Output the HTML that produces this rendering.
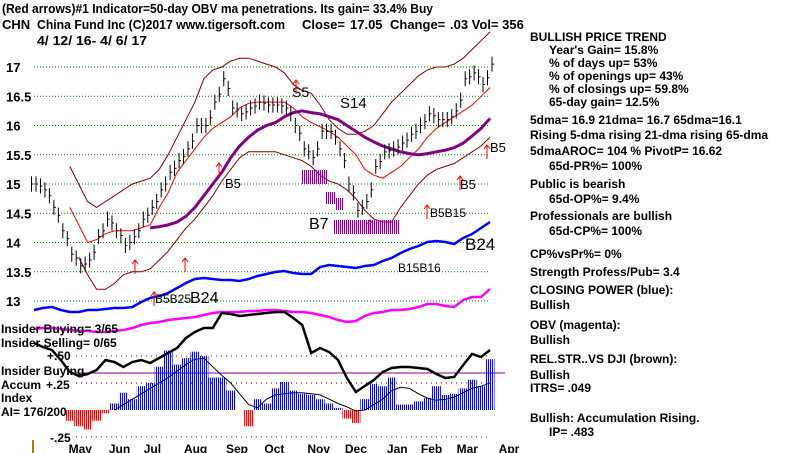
<!DOCTYPE html>
<html><head><meta charset="utf-8"><style>
html,body{margin:0;padding:0;background:#fff;width:800px;height:453px;overflow:hidden}
svg{display:block;font-family:"Liberation Sans",sans-serif}
.t{font-size:12px;font-weight:bold;fill:#000}
.h{font-size:13px;font-weight:bold;fill:#000}
</style></head><body>
<svg id="chart" width="800" height="453" viewBox="0 0 800 453">
<defs>
<pattern id="bstripe" width="2" height="4" patternUnits="userSpaceOnUse"><rect width="1" height="4" fill="#0000ff"/></pattern>
<pattern id="rstripe" width="2" height="4" patternUnits="userSpaceOnUse"><rect width="1" height="4" fill="#ff0000"/></pattern>
<pattern id="pstripe" width="2" height="4" patternUnits="userSpaceOnUse"><rect width="1" height="4" fill="#800080"/></pattern>
</defs>
<text class="h" x="2" y="13" textLength="431" lengthAdjust="spacingAndGlyphs">(Red arrows)#1 Indicator=50-day OBV ma penetrations. Its gain= 33.4% Buy</text>
<g class="h">
<text x="2" y="29">CHN</text>
<text x="37" y="29" textLength="248" lengthAdjust="spacingAndGlyphs">China Fund Inc  (C)2017 www.tigersoft.com</text>
<text x="302" y="29">Close=</text>
<text x="350" y="29">17.05</text>
<text x="390" y="29">Change=</text>
<text x="450" y="29">.03 Vol= 356</text>
</g>
<text class="h" x="37" y="45" textLength="110" lengthAdjust="spacingAndGlyphs">4/ 12/ 16- 4/ 6/ 17</text>
<g id="grid"></g><g id="bands"></g><g id="bars"></g><g id="lower"></g><g id="notes"></g>
<g class="t">
<text x="530" y="41">BULLISH PRICE TREND</text>
<text x="549" y="54">Year's Gain= 15.8%</text>
<text x="549" y="67">% of days up= 53%</text>
<text x="549" y="80">% of openings up= 43%</text>
<text x="549" y="93">% of closings up= 59.8%</text>
<text x="549" y="106">65-day gain= 12.5%</text>
<text x="530" y="124">5dma= 16.9 21dma= 16.7 65dma=16.1</text>
<text x="530" y="139">Rising 5-dma  rising 21-dma  rising 65-dma</text>
<text x="530" y="155">5dmaAROC= 104  %  PivotP= 16.62</text>
<text x="549" y="170">65d-PR%= 100%</text>
<text x="530" y="188">Public is bearish</text>
<text x="549" y="203">65d-OP%= 9.4%</text>
<text x="530" y="220">Professionals are bullish</text>
<text x="549" y="235">65d-CP%= 100%</text>
<text x="530" y="258">CP%vsPr%=  0%</text>
<text x="530" y="276">Strength Profess/Pub= 3.4</text>
<text x="530" y="294">CLOSING POWER (blue):</text>
<text x="530" y="309">Bullish</text>
<text x="530" y="329">OBV (magenta):</text>
<text x="530" y="344">Bullish</text>
<text x="530" y="363">REL.STR..VS DJI (brown):</text>
<text x="530" y="379">Bullish</text>
<text x="530" y="392">ITRS= .049</text>
<text x="530" y="422">Bullish: Accumulation Rising.</text>
<text x="549" y="436">IP=  .483</text>
</g>
<g class="t">
<text x="1" y="333">Insider Buying= 3/65</text>
<text x="1" y="347">Insider Selling= 0/65</text>
<text x="47" y="360">+.50</text>
<text x="1" y="375">Insider Buying</text>
<text x="1" y="389">Accum</text><text x="46" y="389">+.25</text>
<text x="1" y="402">Index</text>
<text x="1" y="416">AI= 176/200</text>
<text x="50" y="442">-.25</text>
</g>
<rect x="32" y="440" width="2" height="13" fill="#a08000"/>
</svg>
<script>
const priceClose=[15.0,14.9,14.6,14.2,13.8,13.6,13.7,14.1,14.4,14.2,13.95,14.1,14.4,14.6,14.9,15.2,15.4,15.6,16.0,16.0,16.4,16.8,16.3,16.2,16.3,16.4,16.35,16.35,16.3,16.0,15.6,15.45,15.9,15.9,15.6,15.0,14.55,14.7,15.3,15.55,15.6,15.7,15.85,16.0,16.2,16.1,16.1,16.25,16.8,16.9,16.7,17.05];
const upperBand=[null,null,null,null,15.3,15.0,14.7,14.6,14.7,14.8,14.9,15.0,15.05,15.1,15.25,15.5,15.8,16.1,16.4,16.8,16.95,17.0,17.1,17.15,17.15,17.1,17.05,17.0,16.9,16.7,16.6,16.55,16.35,16.1,15.95,15.85,15.85,15.9,16.0,16.2,16.4,16.55,16.7,16.85,16.95,17.0,17.0,17.05,17.15,17.3,17.45,17.6];
const lowerBand=[null,null,null,null,null,13.75,13.45,13.2,13.2,13.3,13.45,13.5,13.5,13.55,13.7,13.85,14.05,14.25,14.4,14.6,14.8,15.05,15.25,15.45,15.55,15.55,15.55,15.55,15.5,15.45,15.4,15.3,15.15,15.05,15.0,14.9,14.75,14.55,14.4,14.35,14.35,14.6,14.8,15.0,15.15,15.25,15.3,15.35,15.45,15.55,15.65,15.8];
const ma21=[null,null,null,null,14.6,14.3,14.0,14.05,14.15,14.2,14.2,14.2,14.25,14.3,14.6,14.85,15.2,15.4,15.6,15.8,15.95,16.05,16.15,16.3,16.38,16.4,16.4,16.4,16.4,16.3,16.15,16.05,15.98,15.9,15.8,15.65,15.5,15.25,15.15,15.1,15.2,15.3,15.45,15.6,15.8,15.95,16.05,16.15,16.25,16.35,16.5,16.65];
const ma65=[null,null,null,null,null,null,null,null,null,null,null,null,null,14.25,14.27,14.3,14.35,14.45,14.6,14.8,15.0,15.2,15.45,15.65,15.8,15.92,16.0,16.05,16.15,16.22,16.25,16.22,16.2,16.15,16.1,16.0,15.9,15.8,15.72,15.65,15.6,15.55,15.52,15.5,15.52,15.55,15.58,15.62,15.7,15.82,15.95,16.12];
const closingPower=[10,12,13,10,8,8,10,10,11,12,12,13,18,22,24,27,32,37,41,42,41,40,40,39,41,44,46,48,49,47,46,46,53,55,54,53,52,54,55,59,62,67,71,74,78,79,78,76,82,86,92,98];
const obv=[11,12,12,11,10,9,9,8,8,9,10,12,15,17,18,20,21,22,23,25,27,28,28,28,29,29,30,30,29,28,28,27,25,23,20,18,19,24,27,28,30,30,31,33,36,36,34,33,40,43,43,51];
const relStrength=[57,53,50,40,28,24,26,30,40,38,33,38,40,37,42,47,52,62,68,72,72,87,86,84,85,86,87,88,88,82,75,47,52,48,40,22,8,14,20,28,32,33,33,32,31,26,22,23,35,46,43,50];
const accumIndex=[null,null,null,null,-0.1,-0.15,-0.18,-0.1,-0.03,0.06,0.16,0.1,0.22,0.25,0.4,0.55,0.42,0.48,0.54,0.5,0.3,0.3,0.18,0.0,-0.15,0.1,0.06,0.2,0.26,0.18,0.15,0.14,0.1,0.06,0.02,-0.08,-0.12,0.1,0.24,0.22,0.3,0.05,0.05,0.08,0.11,0.22,0.14,0.15,0.2,0.28,0.22,0.47];
const accumMa=[null,null,null,null,null,null,null,null,null,0.0,0.05,0.1,0.15,0.2,0.25,0.3,0.36,0.42,0.47,0.48,0.4,0.32,0.25,0.15,0.05,0.02,0.1,0.14,0.15,0.16,0.16,0.15,0.14,0.1,0.06,0.03,-0.01,0.0,0.05,0.1,0.18,0.21,0.2,0.15,0.11,0.09,0.1,0.12,0.16,0.2,0.22,0.25];
const priceTicks=[17,16.5,16,15.5,15,14.5,14,13.5,13];
const tickLabels=["17","16.5","16","15.5","15","14.5","14","13.5","13"];
const months=["May","Jun","Jul","Aug","Sep","Oct","Nov","Dec","Jan","Feb","Mar","Apr"];
const monthIdx=[5.1,9.6,13.5,18,22.7,27,31.8,36,40.7,44.5,48.5,53.2];

const NS="http://www.w3.org/2000/svg";
const X0=34,X1=490;
const xs=i=>X0+i*(X1-X0)/(priceClose.length-1);
const yp=p=>67+(17-p)*58.5;
const ycp=v=>320-v, yobv=v=>340-v, yrs=v=>400-v;
const yai=v=>410-v*108;
function mk(tag,attrs,parent){const e=document.createElementNS(NS,tag);for(const k in attrs)e.setAttribute(k,attrs[k]);parent.appendChild(e);return e;}
function line(arr,fy,stroke,w,parent,name,dash){
  let d="";arr.forEach((v,i)=>{if(v==null)return;d+=(d?"L":"M")+xs(i).toFixed(1)+","+fy(v).toFixed(1);});
  const p=mk("path",{d:d,fill:"none",stroke:stroke,"stroke-width":w},parent);
  if(dash)p.setAttribute("stroke-dasharray",dash);
  
  
}
const grid=document.getElementById("grid");
priceTicks.forEach((t,k)=>{
  const g=mk("line",{x1:34,x2:490,y1:yp(t),y2:yp(t),stroke:"#008000","stroke-dasharray":"1,2"},grid);
  
  
  const tx=mk("text",{x:6,y:yp(t)+5,class:"h"},grid);tx.textContent=tickLabels[k];
  
  
});
[[0.5,"#800080"],[0.25,"#000"],[-0.25,"#800080"]].forEach(a=>{
  const g=mk("line",{x1:76,x2:490,y1:yai(a[0]),y2:yai(a[0]),stroke:a[1],"stroke-dasharray":"1,4"},grid);
  
  
});
const zl=mk("line",{x1:76,x2:505,y1:373,y2:373,stroke:"#800080"},grid);


months.forEach((m,k)=>{
  const tx=mk("text",{x:X0+monthIdx[k]*(X1-X0)/(priceClose.length-1)-11,y:453,class:"t"},grid);tx.textContent=m;
  
  
});
const bands=document.getElementById("bands");
line(upperBand,yp,"#800000",1,bands,"upper-band");
line(lowerBand,yp,"#800000",1,bands,"lower-band");
line(ma21,yp,"#ff0000",1,bands,"ma-21");
line(ma65,yp,"#800080",3,bands,"ma-65");
const bars=document.getElementById("bars");
priceClose.forEach((c,i)=>{
  const x=xs(i);
  const prev=i>0?priceClose[i-1]:c;
  [[-2.5,(prev*2+c)/3],[2,c]].forEach(s=>{
    const b=mk("path",{d:`M${x+s[0]},${yp(s[1]+0.13)}V${yp(s[1]-0.13)}M${x+s[0]},${yp(s[1])}h2`,stroke:"#000",fill:"none"},bars);
    
    
  });
});
const lower=document.getElementById("lower");
accumIndex.forEach((v,i)=>{
  if(v==null)return;
  const y=yai(v),y0=yai(0);
  const r=mk("rect",{x:xs(i)-4.5,y:Math.min(y,y0),width:9,height:Math.abs(y-y0),fill:v>=0?"url(#bstripe)":"url(#rstripe)"},lower);
  
  
});
line(accumMa,yai,"#000",1,lower,"accum-ma");
line(closingPower,ycp,"#0000ff",2.5,lower,"closing-power");
line(obv,yobv,"#ff00ff",2.5,lower,"obv-line");
line(relStrength,yrs,"#000",2.5,lower,"relative-strength");
const notes=document.getElementById("notes");
[["S5",292,97,14],["S14",340,108,15],["B5",225,188,13],["B7",309,229,16],["B5",460,189,13],["B5",490,152,13],["B5B15",430,217,12],["B24",465,250,17],["B15B16",398,272,12],["B5B25",155,303,12],["B24",190,303,16]].forEach(a=>{
  const tx=mk("text",{x:a[1],y:a[2],"font-size":a[3],fill:"#000"},notes);tx.textContent=a[0];
  
  
});
[[135,260],[185,258],[219,163],[370,220],[427,205],[460,176],[487,145],[154,292],[296,80]].forEach(a=>{
  const p=mk("path",{d:`M${a[0]},${a[1]+14}V${a[1]}M${a[0]-3},${a[1]+4}L${a[0]},${a[1]}L${a[0]+3},${a[1]+4}`,stroke:"#ff0000",fill:"none"},notes);
  
  
});
[[302,170,26,14],[326,192,10,12],[334,220,66,14],[336,198,8,12]].forEach(a=>{
  const r=mk("rect",{x:a[0],y:a[1],width:a[2],height:a[3],fill:"url(#pstripe)"},notes);
  
  
});
</script>
</body></html>
